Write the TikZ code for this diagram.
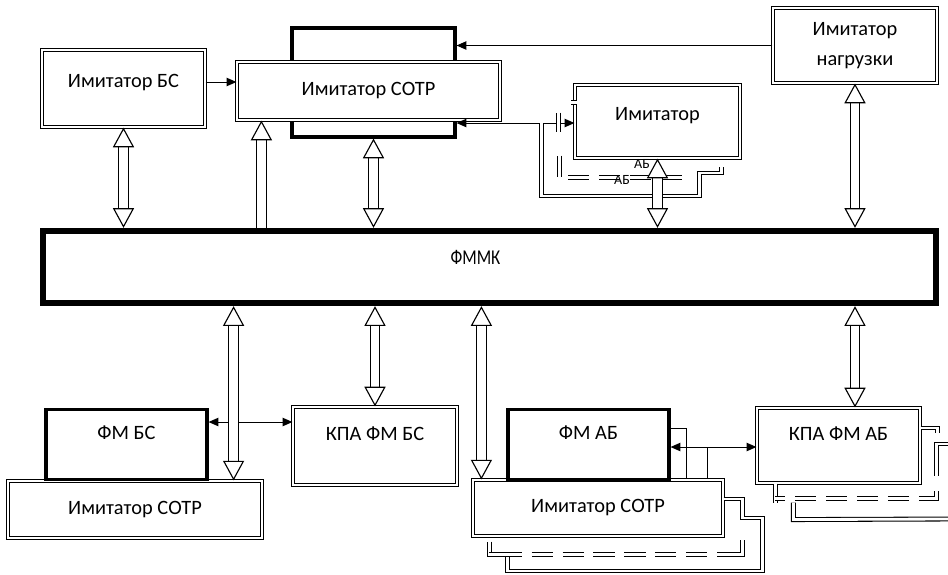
\documentclass[tikz,border=0pt]{standalone}
\usepackage{fontspec}
\setmainfont{Carlito}
\newfontfamily\narrowfont[FakeStretch=0.8]{Carlito}
\usetikzlibrary{arrows.meta, calc}
\tikzset{
  dbox/.style={
    rectangle, draw=black, double=white,
    double distance=1.6pt, line width=0.8pt,
    fill=white, align=center, inner sep=2pt,
    font=\fontsize{14.5}{21}\selectfont
  },
  tbox/.style={
    rectangle, draw=black, line width=2.2pt,
    fill=white, align=center, inner sep=2pt,
    font=\fontsize{14.5}{21}\selectfont
  },
  mainbox/.style={
    rectangle, draw=black, line width=3.8pt,
    fill=white, inner sep=2pt
  },
  hd/.tip={Triangle[open, fill=white, length=14pt, width=15pt, line width=0.8pt]},
  bus/.style={double=white, double distance=6pt, line width=0.8pt, hd-hd},
  busup/.style={double=white, double distance=6pt, line width=0.8pt, hd-},
  arr/.style={-{Triangle[length=7pt, width=6pt]}, line width=0.7pt},
  arrs/.style={{Triangle[length=7pt, width=6pt]}-{Triangle[length=7pt, width=6pt]}, line width=0.7pt},
  dline/.style={draw=black, double=white, double distance=2pt, line width=0.75pt},
  ddline/.style={dline, dash pattern=on 15pt off 7pt},
  ablbl/.style={font=\fontsize{10}{12}\selectfont, inner sep=0pt}
}

\begin{document}
\begin{tikzpicture}[x=0.025cm, y=-0.025cm]
  \useasboundingbox (0,0) rectangle (948,574);

  % ---- Top row ----
  \node[tbox, minimum width=4.075cm, minimum height=2.725cm] (sotrback) at (373.5,82.5) {};
  \node[dbox, minimum width=6.575cm, minimum height=1.45cm]  (sotr)     at (368.5,91)   {Имитатор СОТР};
  \node[dbox, minimum width=4.075cm, minimum height=1.925cm, text depth=11.4pt] (imbs) at (123.5,88.5) {Имитатор БС};
  \node[dbox, minimum width=4.125cm, minimum height=1.825cm, text depth=11.4pt] (imab) at (657.5,121.5) {Имитатор};
  \node[dbox, minimum width=4.1cm, minimum height=1.875cm]   (nagr)     at (855,45.5)   {Имитатор\\нагрузки};

  % ---- Main bus ----
  \node[mainbox, minimum width=22.35cm, minimum height=1.825cm] (fmmk) at (489.5,267) {};
  \draw[line width=0.7pt] ([shift={(4.2pt,-4.2pt)}]fmmk.north west) rectangle ([shift={(-4.2pt,4.2pt)}]fmmk.south east);
  \node[font=\narrowfont\fontsize{15}{17}\selectfont] (fmmktxt) at ($(fmmk.center)+(-14,-10)$) {ФММК};

  % ---- Bottom row ----
  \node[dbox, minimum width=6.35cm, minimum height=1.425cm] (sotr1) at (135,509.5) {Имитатор СОТР};
  \node[dbox, minimum width=6.25cm, minimum height=1.4cm]   (sotr2) at (598,508)   {Имитатор СОТР};
  \node[tbox, minimum width=4.025cm, minimum height=1.75cm, text depth=17pt] (fmbs) at (126.5,444.5) {ФМ БС};
  \node[tbox, minimum width=4.025cm, minimum height=1.75cm, text depth=17pt] (fmab) at (588.5,444.5) {ФМ АБ};
  \node[dbox, minimum width=4.1cm, minimum height=1.95cm, text depth=17pt]   (kpabs) at (375,446)   {КПА ФМ БС};
  \node[dbox, minimum width=4.075cm, minimum height=1.875cm, text depth=17pt] (kpaab) at (838.5,445.5) {КПА ФМ АБ};

  % ---- Thin arrows ----
  \draw[arr]  ($(imbs.east)+(0,-6.5)$) -- ($(sotr.west |- imbs.east)+(0,-6.5)$);
  \draw[arr]  (nagr.west) -- (nagr.west -| sotrback.east);
  \draw[arrs] ($(imab.west)+(0,1.5)$) -- ($(imab.west -| sotrback.east)+(0,1.5)$);
  \draw[arrs] ($(fmbs.east)+(0,-22.5)$) -- ($(fmbs.east -| kpabs.west)+(0,-22.5)$);
  \draw[arrs] ($(fmab.east)+(0,2.5)$) -- ($(fmab.east -| kpaab.west)+(0,2.5)$);
  \draw[line width=0.7pt] ($(fmab.east)+(0,-16.5)$) -| ($(sotr2.north west)+(214,0)$);
  \coordinate (jkp) at ($(fmab.east)+(37,2.5)$);
  \draw[line width=0.7pt] (jkp) -- (jkp |- sotr2.north);

  % ---- Double loops ----
  \coordinate (jab) at ($(imab.west)+(-33,1.5)$);
  \draw[dline] (jab) -- ++(0,73) -- ++(158,0) -- ++(0,-23) -- ++(22,0) -- ++(0,-6);
  \draw[dline] ($(imab.west)+(-16,-9)$) -- ++(0,19);
  \draw[dline] ($(imab.north west)+(-3,18)$) -- ++(6,0);
  \draw[ddline] ($(imab.south west)+(-15,-3)$) -- ++(0,22) -- ++(130,0);

  \draw[dline] ($(sotr2.east)+(0,-9)$) -- ++(19,0) -- ++(0,19) -- ++(20,0) -- ++(0,53) -- ++(-255,0) -- ++(0,-17);
  \coordinate (sla) at ($(sotr2.south west)+(17,5)$);
  \coordinate (slb) at ($(sla)+(0,13)$);
  \coordinate (slc) at ($(slb)+(253,0)$);
  \draw[dline] (sla) -- (slb) -- ++(12,0);
  \draw[ddline, dash phase=-8pt] (slb) -- (slc);
  \draw[dline] ($(slc)+(-10,0)$) -- (slc) -- ++(0,-15);

  \coordinate (edgea) at (948,444);
  \coordinate (edgeb) at (948,519);
  \coordinate (kla) at ($(kpaab.south west)+(19,0)$);
  \coordinate (klb) at ($(kla)+(0,15)$);
  \coordinate (klc) at ($(klb)+(161,0)$);
  \draw[dline] ($(kpaab.east)+(0,-17.5)$) -- ++(17,0) -- ++(0,5);
  \draw[dline] (edgea) -| ($(kpaab.east)+(16,7)$);
  \draw[dline] (kla) -- ++(0,19);
  \draw[ddline, dash phase=-14pt] (klb) -- (klc);
  \draw[dline] ($(klc)+(-12,0)$) -- (klc) -- ++(0,-8);
  \draw[dline] ($(klc)+(0,-23)$) -- ++(0,-23);
  \draw[dline] ($(kpaab.south west)+(37,19)$) -- ++(0,17) -- (edgeb);

  % ---- Buses ----
  \draw[bus]   (imbs.south) -- (imbs.south |- fmmk.north);
  \draw[busup] ($(sotr.south west)+(25,0)$) -- ($(sotr.south west |- fmmk.north)+(25,0)$);
  \draw[bus]   (sotrback.south) -- (sotrback.south |- fmmk.north);
  \draw[bus]   (imab.south) -- (imab.south |- fmmk.north);
  \draw[bus]   (nagr.south) -- (nagr.south |- fmmk.north);

  \draw[bus] ($(sotr1.north east |- fmmk.south)+(-29,0)$) -- ($(sotr1.north east)+(-29,0)$);
  \draw[bus] (kpabs.north |- fmmk.south) -- (kpabs.north);
  \draw[bus] ($(sotr2.north west |- fmmk.south)+(9,0)$) -- ($(sotr2.north west)+(9,0)$);
  \draw[bus] (nagr.south |- fmmk.south) -- (nagr.south |- kpaab.north);

  % ---- Stray labels ----
  \node[ablbl] (ab1) at (642,164) {АБ};
  \node[ablbl] (ab2) at (622,180) {АБ};
\end{tikzpicture}
\end{document}
